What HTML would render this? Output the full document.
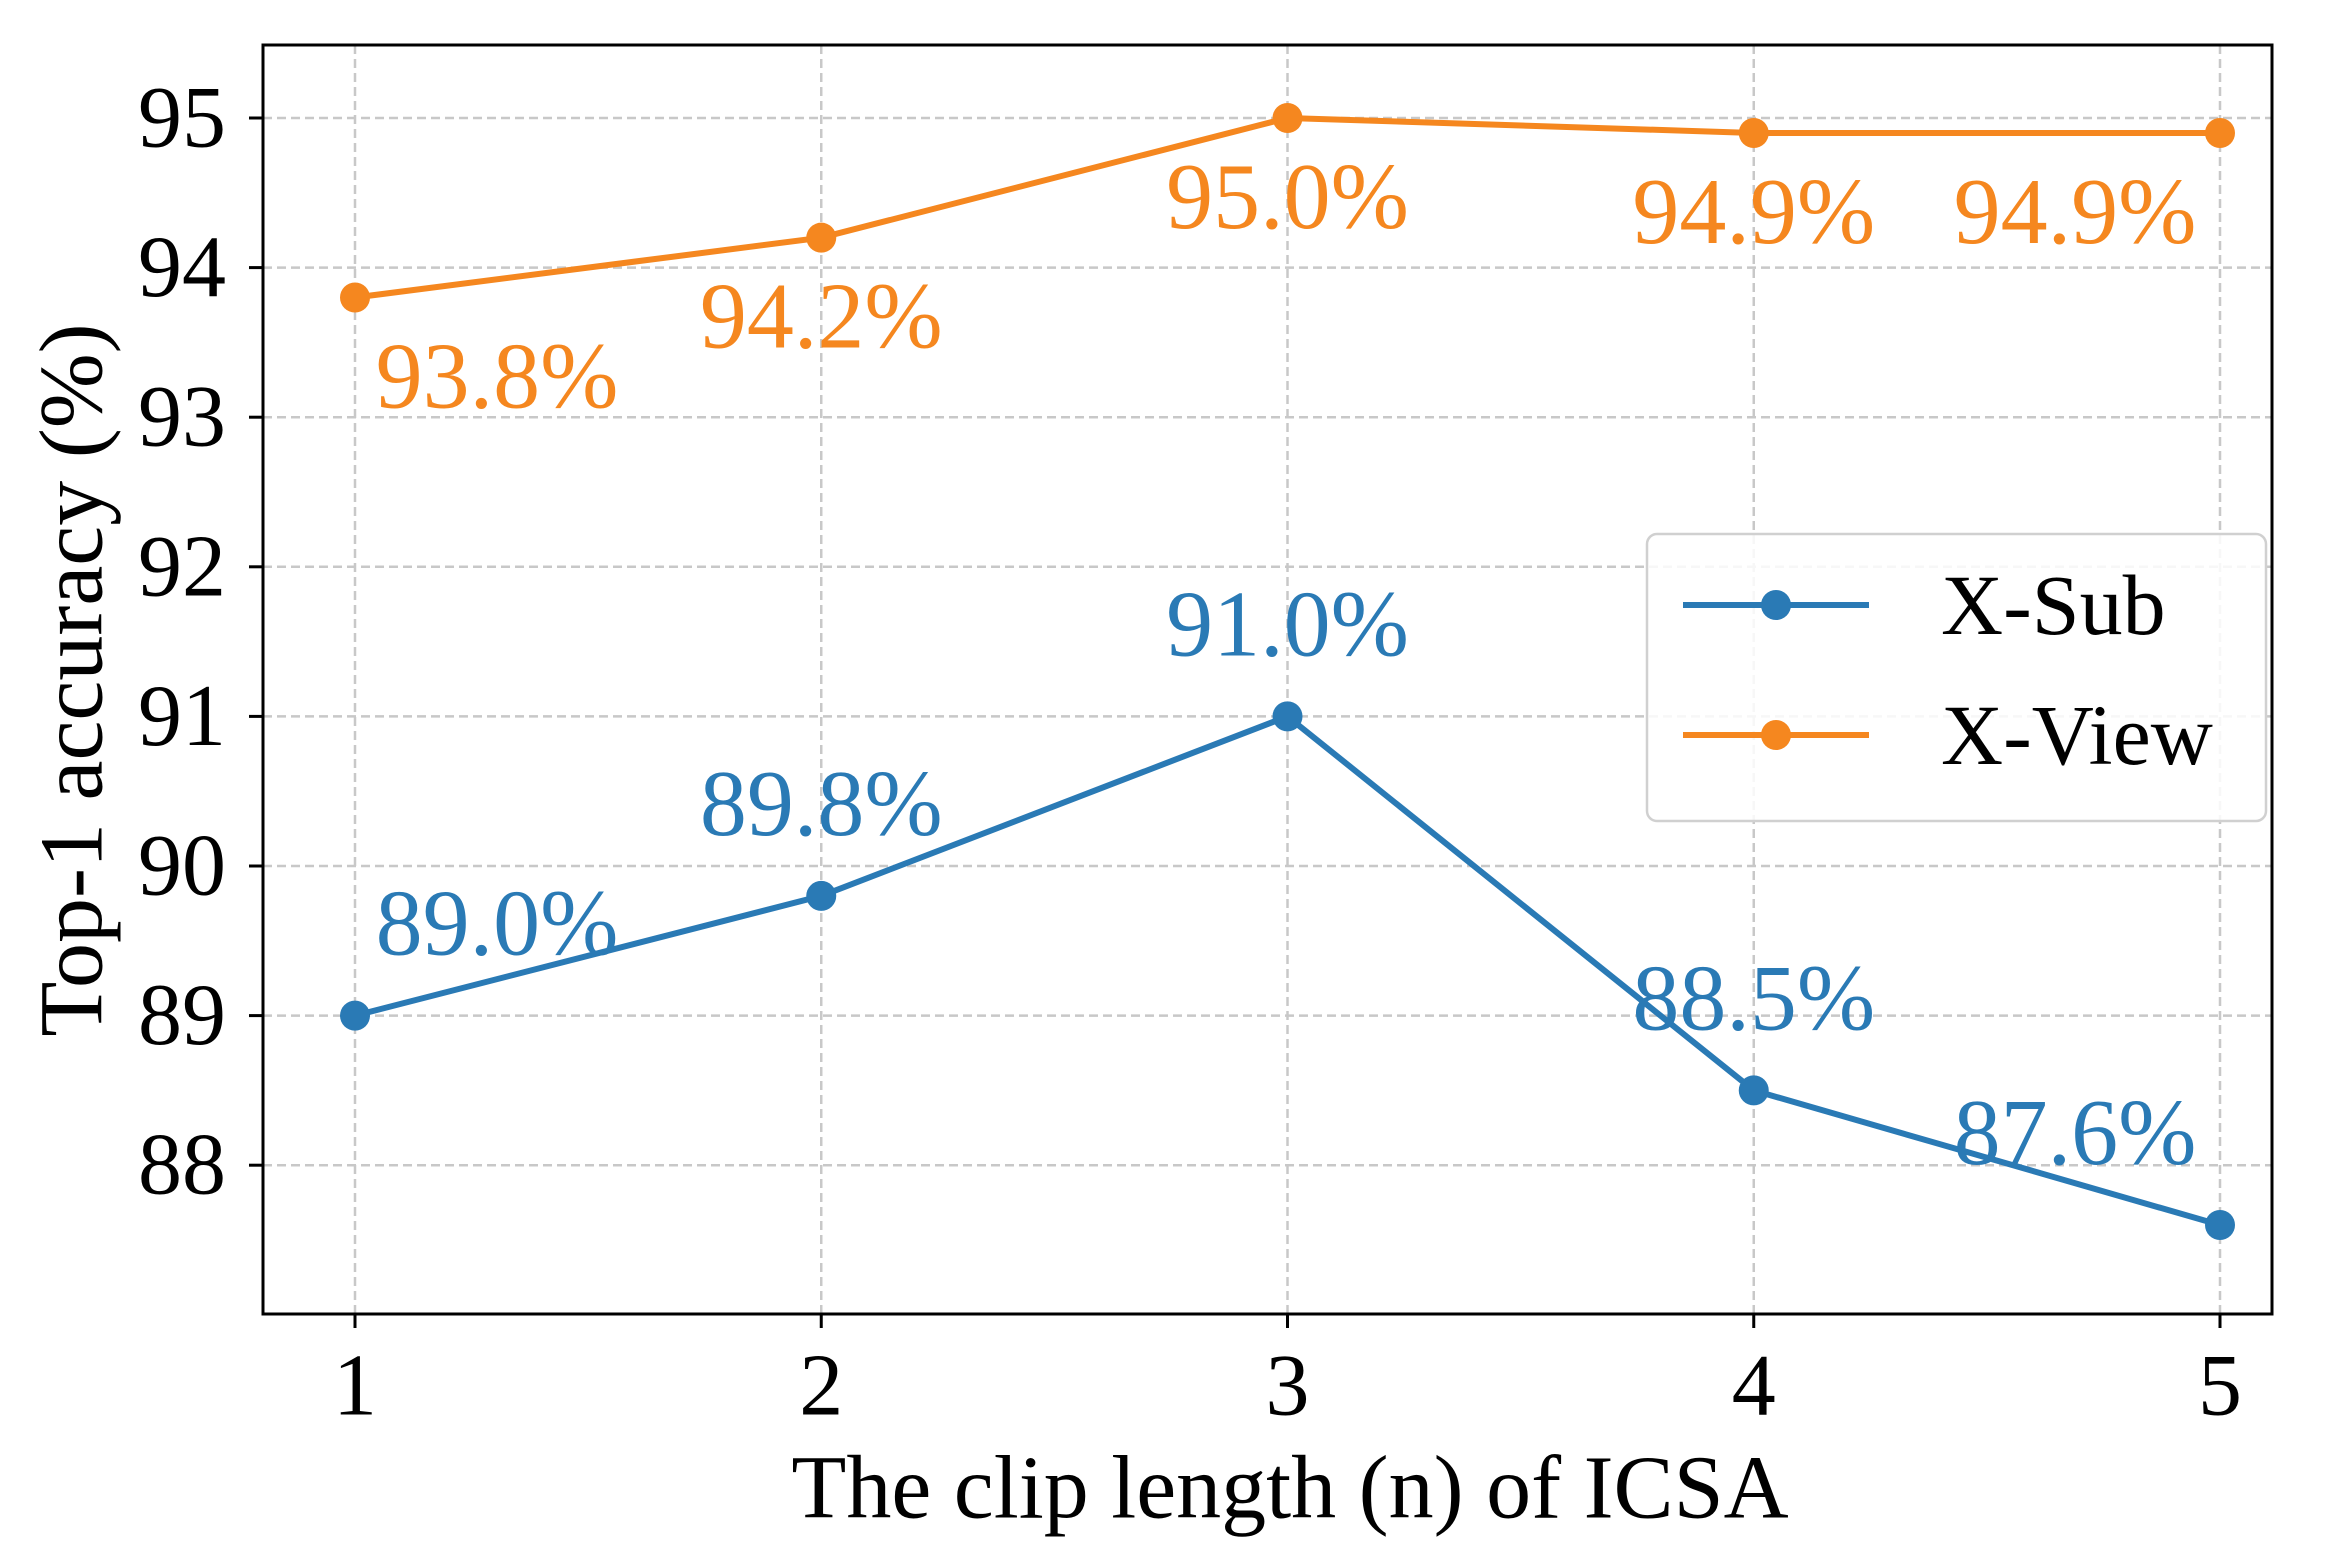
<!DOCTYPE html>
<html><head><meta charset="utf-8"><style>html,body{margin:0;padding:0;background:#fff}svg{display:block}text{font-family:"Liberation Serif",serif}</style></head>
<body>
<svg id="chart" width="2341" height="1567" viewBox="0 0 2341 1567" xmlns="http://www.w3.org/2000/svg"></svg>
<script>
const categories = [1, 2, 3, 4, 5];
const xSub = [89.0, 89.8, 91.0, 88.5, 87.6];
const xView = [93.8, 94.2, 95.0, 94.9, 94.9];
const yTicks = [88, 89, 90, 91, 92, 93, 94, 95];
const subLabels = ["89.0%", "89.8%", "91.0%", "88.5%", "87.6%"];
const viewLabels = ["93.8%", "94.2%", "95.0%", "94.9%", "94.9%"];

const NS = "http://www.w3.org/2000/svg";
const svg = document.getElementById("chart");
const L = 263, R = 2272, T = 45, B = 1314;
const xs = c => 355 + (c - 1) * 466.25;
const ys = v => 118 + (95 - v) * 149.6;
function el(tag, attrs, parent) {
  const e = document.createElementNS(NS, tag);
  for (const k in attrs) e.setAttribute(k, attrs[k]);
  (parent || svg).appendChild(e);
  return e;
}
yTicks.forEach(v => {
  const g = el("line", {x1: L, x2: R, y1: ys(v), y2: ys(v), stroke: "#c8c8c8", "stroke-width": 2.5, "stroke-dasharray": "9,5"});
  
  
  const t = el("line", {x1: L - 14, x2: L, y1: ys(v), y2: ys(v), stroke: "#000", "stroke-width": 3});
  
  
  const lb = el("text", {x: 226, y: ys(v), "font-size": 88, "text-anchor": "end", "dominant-baseline": "central"});
  lb.textContent = v;
  
  
});
categories.forEach(c => {
  const g = el("line", {x1: xs(c), x2: xs(c), y1: T, y2: B, stroke: "#c8c8c8", "stroke-width": 2.5, "stroke-dasharray": "9,5"});
  
  
  const t = el("line", {x1: xs(c), x2: xs(c), y1: B, y2: B + 14, stroke: "#000", "stroke-width": 3});
  
  
  const lb = el("text", {x: xs(c), y: 1386, "font-size": 88, "text-anchor": "middle", "dominant-baseline": "central"});
  lb.textContent = c;
  
  
});
const frame = el("rect", {x: L, y: T, width: R - L, height: B - T, fill: "none", stroke: "#000", "stroke-width": 3});



function series(vals, labels, color, name, offY) {
  const pts = vals.map((v, i) => xs(categories[i]) + "," + ys(v)).join(" ");
  const pl = el("polyline", {points: pts, fill: "none", stroke: color, "stroke-width": 6});
  
  
  vals.forEach((v, i) => {
    const m = el("circle", {cx: xs(categories[i]), cy: ys(v), r: 15, fill: color});
    
    
    let dx = 0;
    if (i === 0) dx = 142;
    if (i === vals.length - 1) dx = -145;
    const t = el("text", {x: xs(categories[i]) + dx, y: ys(v) + offY, "font-size": 94, fill: color, "text-anchor": "middle", "dominant-baseline": "central"});
    t.textContent = labels[i];
    
    
  });
}
series(xSub, subLabels, "#2a7ab5", "x-sub", -92);
series(xView, viewLabels, "#f5871f", "x-view", 79);

const xt = el("text", {x: 1290, y: 1488, "font-size": 90, "text-anchor": "middle", "dominant-baseline": "central"});
xt.textContent = "The clip length (n) of ICSA";


const yt = el("text", {x: 0, y: 0, "font-size": 90, "text-anchor": "middle", "dominant-baseline": "central", transform: "translate(72,680) rotate(-90)"});
yt.textContent = "Top-1 accuracy (%)";



const lg = el("g", {});


const box = el("rect", {x: 1647, y: 534, width: 619, height: 287, rx: 10, fill: "#fff", "fill-opacity": 0.85, stroke: "#d0d0d0", "stroke-width": 2.5}, lg);


[["X-Sub", "#2a7ab5", 605], ["X-View", "#f5871f", 735]].forEach(([n, c, y]) => {
  const g = el("g", {}, lg);
  
  
  el("line", {x1: 1683, x2: 1869, y1: y, y2: y, stroke: c, "stroke-width": 6}, g);
  el("circle", {cx: 1776, cy: y, r: 15, fill: c}, g);
  const t = el("text", {x: 1941, y: y, "font-size": 86, "dominant-baseline": "central"}, g);
  t.textContent = n;
});
</script>
</body></html>
